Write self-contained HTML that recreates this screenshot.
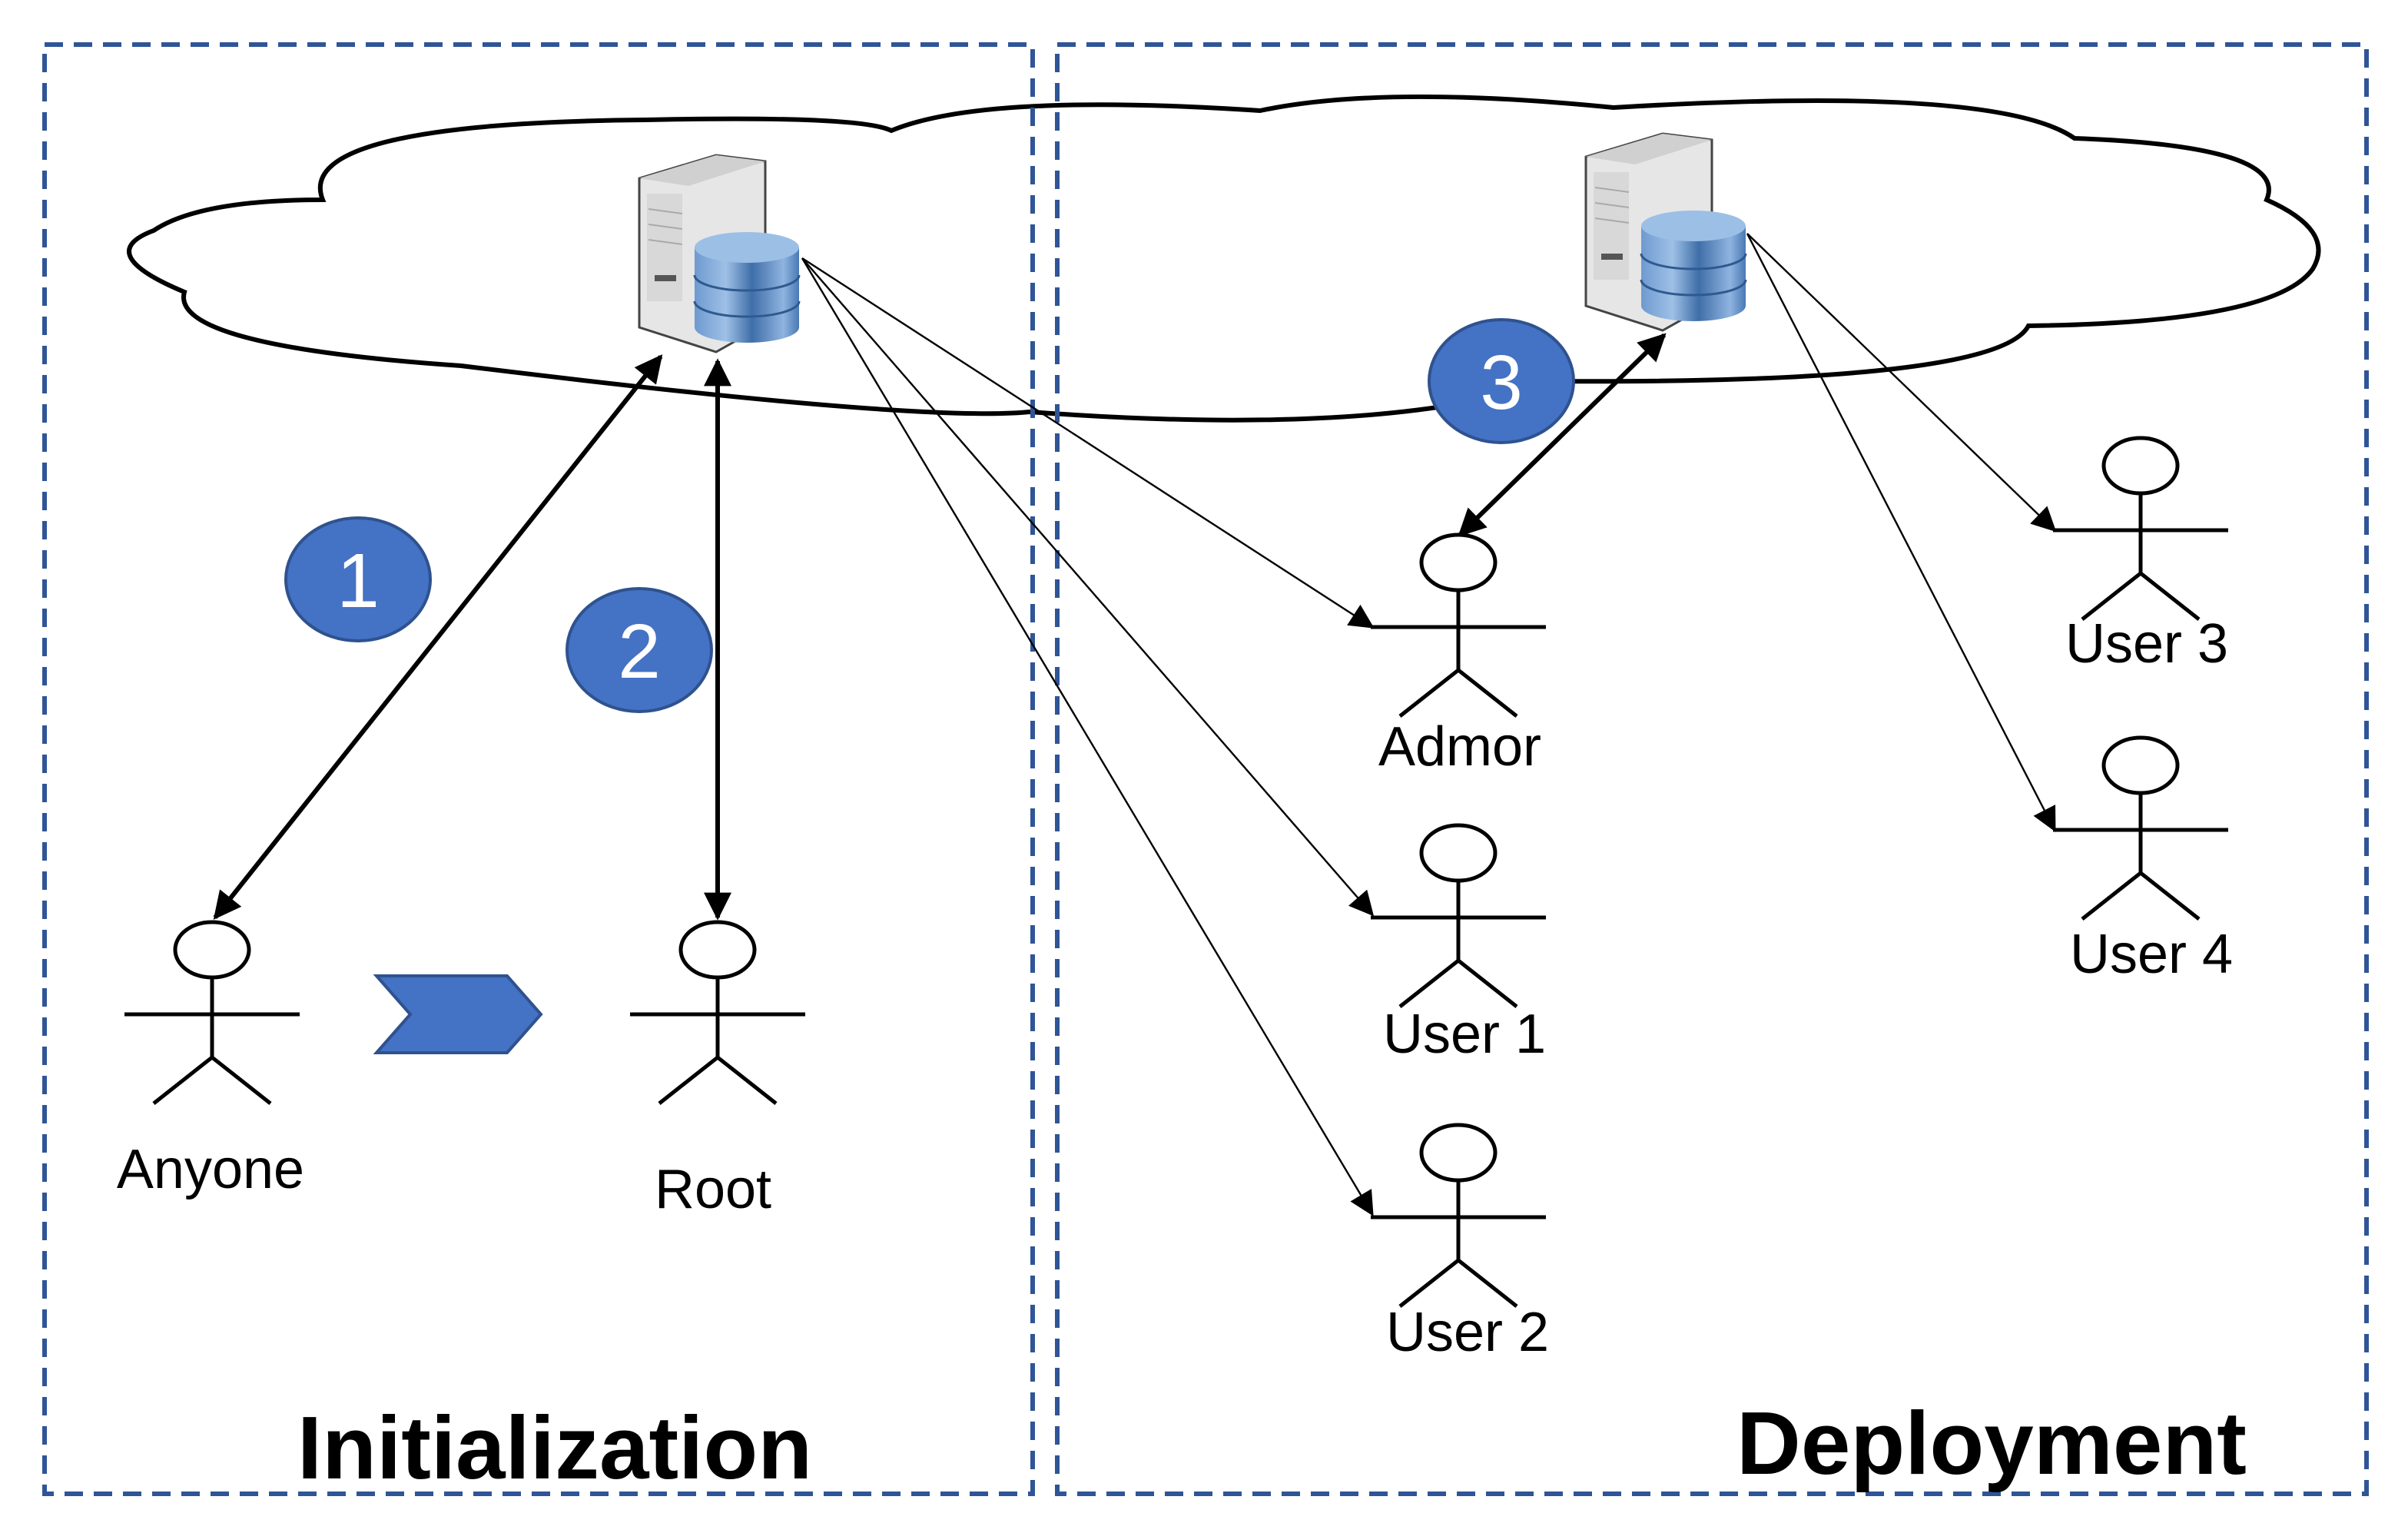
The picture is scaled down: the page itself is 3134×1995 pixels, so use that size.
<!DOCTYPE html>
<html><head><style>html,body{margin:0;padding:0;background:#fff}svg{display:block}</style></head>
<body>
<svg width="3134" height="1995" viewBox="0 0 1567 997.5" xmlns="http://www.w3.org/2000/svg" font-family="Liberation Sans, sans-serif">
<defs>
<marker id="ah" markerWidth="10" markerHeight="10" refX="9" refY="5" orient="auto-start-reverse" markerUnits="userSpaceOnUse" viewBox="0 0 10 10">
<path d="M0,0 L10,5 L0,10 Z" fill="#000"/></marker>
<marker id="ahb" viewBox="0 0 10 10" refX="9" refY="5" markerWidth="22" markerHeight="18" orient="auto-start-reverse" markerUnits="userSpaceOnUse">
<path d="M0,0 L10,5 L0,10 Z" fill="#000"/></marker>
<marker id="aht" viewBox="0 0 10 10" refX="9" refY="5" markerWidth="22" markerHeight="16" orient="auto" markerUnits="userSpaceOnUse">
<path d="M0,0 L10,5 L0,10 Z" fill="#000"/></marker>
<linearGradient id="cyl" x1="0" x2="1" y1="0" y2="0">
<stop offset="0" stop-color="#6f9ad0"/><stop offset="0.3" stop-color="#9ec0e6"/><stop offset="0.55" stop-color="#3f6ea8"/><stop offset="0.85" stop-color="#8fb4e0"/><stop offset="1" stop-color="#4a79b4"/></linearGradient>
<g id="srv">
<path d="M0,15 L50,0 L82,4 L82,110 L50,128 L0,112 Z" fill="#e6e6e6" stroke="#444" stroke-width="1.5"/>
<path d="M0,15 L50,0 L82,4 L32,20 Z" fill="#d0d0d0"/>
<rect x="5" y="25" width="23" height="70" fill="#d8d8d8"/>
<line x1="6" y1="35" x2="28" y2="38" stroke="#aaa"/><line x1="6" y1="45" x2="28" y2="48" stroke="#aaa"/><line x1="6" y1="55" x2="28" y2="58" stroke="#aaa"/>
<rect x="10" y="78" width="14" height="4" fill="#555"/>
<path d="M36,60 v52 a34,10 0 0 0 68,0 v-52 z" fill="url(#cyl)"/>
<ellipse cx="70" cy="60" rx="34" ry="10" fill="#9cbfe6"/>
<path d="M36,78 a34,10 0 0 0 68,0 M36,95 a34,10 0 0 0 68,0" fill="none" stroke="#2f5a90" stroke-width="1.5"/>
</g>
</defs>
<rect width="1567" height="997.5" fill="#fff"/>
<!-- cloud -->
<path d="M210,130 Q190,80 420,78 Q560,75 580,85 Q640,60 820,72 Q900,55 1050,70 Q1300,55 1350,90 Q1490,95 1475,130 Q1520,150 1505,175 Q1480,210 1320,212 Q1300,250 1010,248 Q900,285 670,268 Q600,275 300,238 Q110,225 120,190 Q60,165 100,150 Q130,130 210,130 Z" fill="#fff" stroke="#000" stroke-width="3"/>
<!-- boxes -->
<rect x="29" y="29" width="643" height="943" fill="none" stroke="#2f5597" stroke-width="3" stroke-dasharray="12 7"/>
<rect x="688" y="29" width="852" height="943" fill="none" stroke="#2f5597" stroke-width="3" stroke-dasharray="12 7"/>
<use href="#srv" x="416" y="101"/>
<use href="#srv" x="1032" y="87"/>
<!-- thin arrows -->
<g stroke="#000" stroke-width="1.2" fill="none" marker-end="url(#aht)">
<line x1="522" y1="168" x2="893" y2="408"/>
<line x1="522" y1="168" x2="893" y2="595"/>
<line x1="522" y1="168" x2="893" y2="790"/>
<line x1="1137" y1="152" x2="1337" y2="345"/>
<line x1="1137" y1="152" x2="1337" y2="540"/>
</g>
<!-- thick arrows -->
<g stroke="#000" stroke-width="3" fill="none" marker-start="url(#ahb)" marker-end="url(#ahb)">
<line x1="430" y1="232" x2="140" y2="597"/>
<line x1="467" y1="235" x2="467" y2="597"/>
<line x1="1083" y1="218" x2="950" y2="348"/>
</g>
<!-- number circles -->
<g fill="#4472c4" stroke="#2f528f" stroke-width="2">
<ellipse cx="233" cy="377" rx="47" ry="40"/>
<ellipse cx="416" cy="423" rx="47" ry="40"/>
<ellipse cx="977" cy="248" rx="47" ry="40"/>
</g>
<g fill="#fff" font-size="50" text-anchor="middle">
<text x="233" y="395">1</text><text x="416" y="441">2</text><text x="977" y="266">3</text>
</g>
<!-- chevron -->
<polygon points="245,635 330,635 352,660 330,685 245,685 267,660" fill="#4472c4" stroke="#2f528f" stroke-width="2"/>
<!-- actors -->
<g stroke="#000" stroke-width="2.5" fill="#fff">
<g transform="translate(138,618)"><ellipse cx="0" cy="0" rx="24" ry="18"/><path d="M0,18 V70 M-57,42 H57 M-38,100 L0,70 L38,100" fill="none"/></g>
<g transform="translate(467,618)"><ellipse cx="0" cy="0" rx="24" ry="18"/><path d="M0,18 V70 M-57,42 H57 M-38,100 L0,70 L38,100" fill="none"/></g>
<g transform="translate(949,366)"><ellipse cx="0" cy="0" rx="24" ry="18"/><path d="M0,18 V70 M-57,42 H57 M-38,100 L0,70 L38,100" fill="none"/></g>
<g transform="translate(949,555)"><ellipse cx="0" cy="0" rx="24" ry="18"/><path d="M0,18 V70 M-57,42 H57 M-38,100 L0,70 L38,100" fill="none"/></g>
<g transform="translate(949,750)"><ellipse cx="0" cy="0" rx="24" ry="18"/><path d="M0,18 V70 M-57,42 H57 M-38,100 L0,70 L38,100" fill="none"/></g>
<g transform="translate(1393,303)"><ellipse cx="0" cy="0" rx="24" ry="18"/><path d="M0,18 V70 M-57,42 H57 M-38,100 L0,70 L38,100" fill="none"/></g>
<g transform="translate(1393,498)"><ellipse cx="0" cy="0" rx="24" ry="18"/><path d="M0,18 V70 M-57,42 H57 M-38,100 L0,70 L38,100" fill="none"/></g>
</g>
<g font-size="36" text-anchor="middle" fill="#000">
<text x="137" y="773">Anyone</text>
<text x="464" y="786">Root</text>
<text x="950" y="498">Admor</text>
<text x="953" y="685">User 1</text>
<text x="955" y="879">User 2</text>
<text x="1397" y="431">User 3</text>
<text x="1400" y="633">User 4</text>
</g>
<g font-size="58" font-weight="bold" text-anchor="middle" fill="#000">
<text x="361" y="962">Initialization</text>
<text x="1296" y="959">Deployment</text>
</g>
</svg>
</body></html>
